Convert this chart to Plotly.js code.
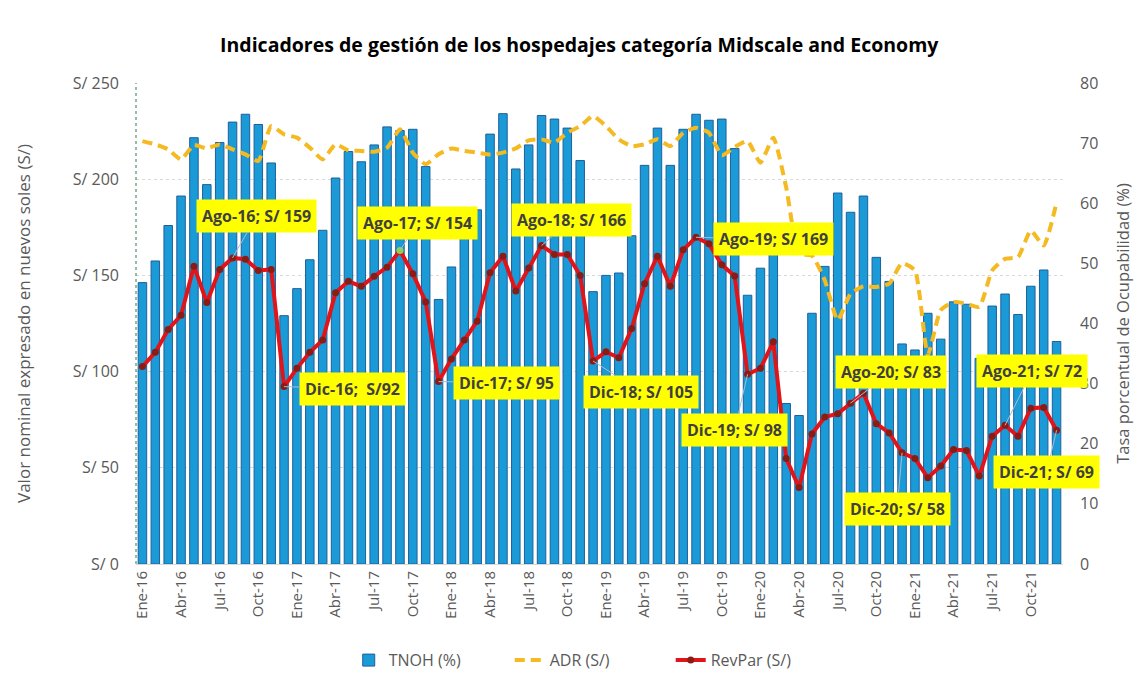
<!DOCTYPE html>
<html>
<head>
<meta charset="utf-8">
<script src="https://cdn.plot.ly/plotly-3.0.1.min.js"></script>
<style>
  html, body { margin: 0; padding: 0; background: #fff; }
  #chart { width: 1147px; height: 689px; }
</style>
</head>
<body>
<div id="chart"></div>
<script>
// ---- Data ----
const monthNames = ["Ene","Feb","Mar","Abr","May","Jun","Jul","Ago","Sep","Oct","Nov","Dic"];
const years = ["16","17","18","19","20","21"];
const months = [];
years.forEach(y => monthNames.forEach(m => months.push(m + "-" + y)));

// TNOH (%) – occupancy rate (right axis)
const tnoh = [
  46.8, 50.4, 56.3, 61.2, 70.9, 63.1, 70.1, 73.5, 74.8, 73.1, 66.7, 41.3,
  45.8, 50.6, 55.5, 64.2, 68.6, 66.9, 69.7, 72.7, 72.1, 72.3, 66.1, 44.0,
  49.4, 54.2, 58.9, 71.5, 74.9, 65.7, 69.7, 74.6, 74.0, 72.5, 67.1, 45.3,
  48.0, 48.4, 54.6, 66.3, 72.5, 66.3, 72.3, 74.8, 73.8, 74.0, 69.1, 44.7,
  49.2, 51.6, 26.7, 24.7, 41.7, 49.5, 61.7, 58.5, 61.2, 51.0, 47.0, 36.6,
  35.6, 41.7, 37.4, 43.6, 43.2, 34.2, 42.9, 44.9, 41.5, 46.2, 48.9, 37.0
];

// ADR (S/) – left axis
const adr = [
  219.8, 218.1, 215.5, 210.3, 217.8, 216.0, 218.1, 215.5, 212.9, 209.5, 227.6, 223.3,
  221.6, 216.4, 210.3, 218.1, 215.0, 214.7, 214.3, 216.4, 225.9, 213.8, 207.8, 213.0,
  215.9, 214.7, 213.8, 212.9, 213.8, 216.0, 220.2, 220.7, 219.0, 224.1, 227.6, 232.8,
  227.6, 220.7, 217.2, 218.1, 220.7, 217.2, 224.1, 226.7, 224.1, 212.4, 216.7, 219.8,
  208.6, 221.6, 195.7, 161.2, 160.3, 147.4, 126.7, 140.5, 144.3, 144.0, 145.7, 156.4,
  152.6, 108.6, 131.9, 136.2, 135.3, 133.6, 152.6, 158.6, 159.5, 173.3, 165.5, 187.9
];

// RevPar (S/) – left axis
const revpar = [
  102.6, 110.0, 121.9, 129.3, 154.8, 135.9, 153.1, 159.1, 158.4, 152.6, 153.1, 92.2,
  101.7, 110.0, 116.4, 141.0, 146.9, 144.3, 149.5, 154.3, 162.9, 150.9, 136.2, 94.8,
  106.6, 116.4, 126.2, 151.4, 160.0, 141.9, 153.8, 165.5, 160.9, 160.9, 150.0, 105.5,
  110.3, 107.2, 122.4, 145.7, 160.0, 144.3, 163.3, 169.8, 166.4, 155.5, 149.7, 98.6,
  101.7, 115.5, 54.8, 39.7, 67.6, 76.4, 78.1, 83.6, 88.8, 72.9, 68.1, 57.8,
  54.8, 44.8, 50.9, 59.5, 59.0, 45.7, 66.4, 72.1, 66.4, 81.0, 81.4, 69.5
];

// Data labels: month index, text, box offset (px)
const labelIdx  = [7, 20, 31, 43, 11, 23, 35, 47, 55, 67, 59, 71];
const labelText = ["Ago-16; S/ 159", "Ago-17; S/ 154", "Ago-18; S/ 166", "Ago-19; S/ 169",
                   "Dic-16;  S/92", "Dic-17; S/ 95", "Dic-18; S/ 105", "Dic-19; S/ 98",
                   "Ago-20; S/ 83", "Ago-21; S/ 72", "Dic-20; S/ 58", "Dic-21; S/ 69"];
const labelAx = [24, 18, 30, 77, 68, 68, 48, -13, 40, 27, -5, -10];
const labelAy = [-42, -28, -26, 2, 2, 1, 31, 56, -31, -54, 56, 42];

const tickMonths = months.filter((m, i) => i % 3 === 0);
const highlightIdx = 20;

// ---- Traces ----
const fontFam = "'Open Sans', 'Noto Sans', sans-serif";
const markerColors = revpar.map((v, i) => i === highlightIdx ? "#92d050" : "#8c1c13");

const traces = [
  {
    type: "bar", name: "TNOH (%)", x: months, y: tnoh, yaxis: "y",
    marker: { color: "#1a9bd7", line: { color: "#1f5f99", width: 1 } }
  },
  {
    type: "scatter", mode: "lines", name: "ADR (S/)", x: months, y: adr, yaxis: "y2",
    line: { color: "#f5b921", width: 4, dash: "10px,6px", shape: "spline", smoothing: 0.5 }
  },
  {
    type: "scatter", mode: "lines+markers", name: "RevPar (S/)", x: months, y: revpar, yaxis: "y2",
    line: { color: "#e0141b", width: 4 },
    marker: { color: markerColors, size: 7, line: { width: 0 } }
  }
];

const annotations = labelIdx.map((idx, k) => ({
  x: months[idx], y: revpar[idx], xref: "x", yref: "y2",
  text: "<b>" + labelText[k] + "</b>",
  showarrow: true, arrowhead: 0, arrowwidth: 1, arrowcolor: "#a9bcd0",
  ax: labelAx[k], ay: labelAy[k],
  bgcolor: "#ffff00", borderpad: 5,
  font: { family: fontFam, size: 16, color: "#404040" }
}));

const layout = {
  width: 1147, height: 689,
  margin: { l: 136, r: 84, t: 83, b: 123 },
  paper_bgcolor: "#ffffff", plot_bgcolor: "#ffffff",
  font: { family: fontFam, color: "#595959" },
  title: {
    text: "<b>Indicadores de gestión de los hospedajes categoría Midscale and Economy</b>",
    font: { family: fontFam, size: 19.5, color: "#000000" },
    x: 0.505, xanchor: "center", y: 0.935, yanchor: "middle"
  },
  bargap: 0.34,
  showlegend: true,
  legend: {
    orientation: "h", x: 0.49, xanchor: "center", y: -0.2, yanchor: "middle",
    font: { family: fontFam, size: 16, color: "#595959" },
    traceorder: "normal", entrywidth: 116, entrywidthmode: "pixels"
  },
  xaxis: {
    type: "category", range: [-0.5, 71.5],
    tickmode: "array", tickvals: tickMonths, ticktext: tickMonths,
    tickangle: -90, tickfont: { family: fontFam, size: 15, color: "#595959" },
    showgrid: false, zeroline: false, showline: true, linecolor: "#d9d9d9", linewidth: 1,
    ticks: ""
  },
  yaxis: {
    side: "right", range: [0, 80], dtick: 10, showgrid: false, zeroline: false,
    tickfont: { family: fontFam, size: 16, color: "#595959" },
    ticklabelstandoff: 16,
    title: { text: "Tasa porcentual de Ocupabilidad (%)", font: { family: fontFam, size: 16.5, color: "#595959" }, standoff: 20 },
    ticks: "", showline: false
  },
  yaxis2: {
    overlaying: "y", side: "left", range: [0, 250], dtick: 50, tickprefix: "S/ ",
    showgrid: true, gridcolor: "#d9d9d9", griddash: "dot", gridwidth: 1, zeroline: false,
    tickfont: { family: fontFam, size: 16, color: "#595959" },
    ticklabelstandoff: 16,
    title: { text: "Valor nominal expresado en nuevos soles (S/)", font: { family: fontFam, size: 17, color: "#595959" }, standoff: 37 },
    ticks: "", showline: false
  },
  shapes: [
    { type: "line", xref: "paper", yref: "paper", x0: 0, x1: 0, y0: 0, y1: 1,
      line: { color: "#2e7d4f", width: 1, dash: "dot" }, layer: "above" }
  ],
  annotations: annotations
};

Plotly.newPlot("chart", traces, layout, { displayModeBar: false, responsive: false });
</script>
</body>
</html>
